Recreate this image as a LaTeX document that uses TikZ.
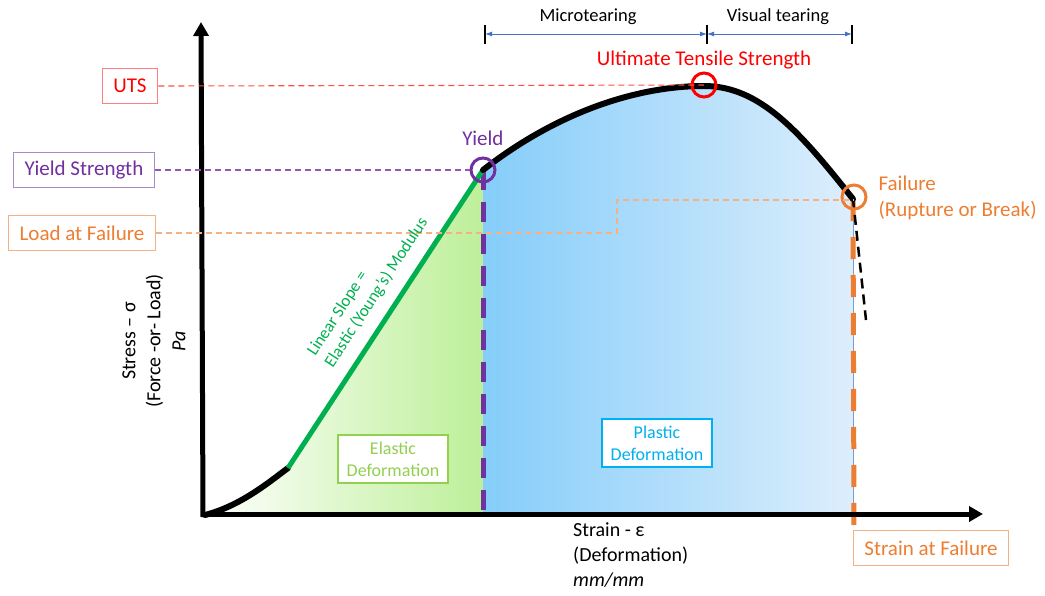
\documentclass[tikz,border=0pt]{standalone}
\usepackage{fontspec}
\setmainfont{Carlito}
\usetikzlibrary{arrows.meta}

\definecolor{utsred}{HTML}{FF0000}
\definecolor{utsbox}{HTML}{FF7C80}
\definecolor{yldpurple}{HTML}{7030A0}
\definecolor{yldbox}{HTML}{A98AC9}
\definecolor{failorange}{HTML}{ED7D31}
\definecolor{failbox}{HTML}{F4B183}
\definecolor{slopegreen}{HTML}{00B050}
\definecolor{elgreen}{HTML}{92D050}
\definecolor{elfill}{HTML}{BDEF98}
\definecolor{plblue}{HTML}{00B0F0}
\definecolor{plfillL}{HTML}{85CDFA}
\definecolor{plfillR}{HTML}{DDEEFC}
\definecolor{tearblue}{HTML}{4472C4}

\newcommand{\bigtxt}{\fontsize{21}{26}\selectfont}
\newcommand{\midtxt}{\fontsize{20}{25}\selectfont}
\newcommand{\smalltxt}{\fontsize{18}{22}\selectfont}

\begin{document}
\begin{tikzpicture}[x=1pt,y=-1pt,
    labelbox/.style={draw=#1,line width=1.3pt,fill=white,inner xsep=11pt,
      minimum height=35pt,font=\bigtxt},
    regionbox/.style={draw=#1,line width=2.2pt,fill=white,text=#1,align=center,
      inner xsep=9pt,inner ysep=7pt,font=\smalltxt},
    mark circle/.style={circle,draw=#1,line width=3pt,minimum size=24pt,inner sep=0pt},
    guide/.style={draw=#1,line width=1.1pt,dash pattern=on 6pt off 4pt},
    tick bar/.style={line width=1.6pt},
    span arrow/.style={tearblue,line width=0.9pt,
      {Latex[length=7pt,width=5pt]}-{Latex[length=7pt,width=5pt]}}]
    \useasboundingbox (0,0) rectangle (1045,596);

    % curve points
    \coordinate (O) at (205,515);
    \coordinate (knee) at (288,468);
    \coordinate (yld) at (483,170);
    \coordinate (ult) at (704,86);
    \coordinate (fail) at (853,199);
    \coordinate (yldfoot) at (483,515);
    \coordinate (failfoot) at (853,515);
    \coordinate (failend) at (854,528);
    \coordinate (breakend) at (866,320);

    % elastic and plastic regions
    \shade[left color=white,right color=elfill] (O) .. controls (240,506) and (268,483) .. (knee)
      -- (yld) -- (yldfoot) -- cycle;
    \shade[left color=plfillL,right color=plfillR] (yld) .. controls (560,110) and (640,86) .. (ult)
      .. controls (760,86) and (800,132) .. (fail) -- (failfoot) -- (yldfoot) -- cycle;
    \draw[tearblue!70,line width=0.8pt] (fail) -- (failfoot);

    \draw[yldpurple,line width=5pt,dash pattern=on 20pt off 12pt] (yld) -- (yldfoot);
    \draw[failorange,line width=5pt,dash pattern=on 22pt off 16pt] (fail) -- (failend);
    \draw[line width=2.5pt,dash pattern=on 10pt off 6pt] (fail) -- (breakend);

    % stress-strain curve
    \draw[line width=6pt,line cap=round] (O) .. controls (240,506) and (268,483) .. (knee);
    \draw[slopegreen,line width=5pt] (knee) -- (yld);
    \draw[line width=6pt,line cap=round] (yld) .. controls (560,110) and (640,86) .. (ult)
      .. controls (760,86) and (800,132) .. (fail);

    % axes
    \coordinate (ytip) at (201,22);
    \coordinate (xtip) at (983,514);
    \draw[line width=5pt,-{Triangle[length=14pt,width=15pt]}] (203,517) -- (ytip);
    \draw[line width=5pt,-{Triangle[length=14pt,width=15pt]}] (201,514) -- (xtip);

    % markers
    \node[mark circle=yldpurple] (yldc) at (yld) {};
    \node[mark circle=utsred] (ultc) at (704,85) {};
    \node[mark circle=failorange] (failc) at (854,197) {};

    \node[text=yldpurple,font=\bigtxt] (yldtxt) at (483,138) {Yield};
    \node[text=utsred,font=\bigtxt] (ulttxt) at (704,60) {Ultimate Tensile Strength};
    \node[text=failorange,font=\bigtxt,align=left,anchor=west] (failtxt) at (875,198)
      {Failure\\(Rupture or Break)};

    % value boxes on the axes
    \node[labelbox=utsbox,text=utsred] (uts) at (130,86) {UTS};
    \node[labelbox=yldbox,text=yldpurple] (ys) at (84,170) {Yield Strength};
    \node[labelbox=failbox,text=failorange] (laf) at (82,233) {Load at Failure};
    \node[labelbox=failbox,text=failorange] (saf) at (931,548) {Strain at Failure};

    \draw[guide=utsred!70] (uts.east) -- (ultc.center);
    \draw[guide=yldpurple!80] (ys.east) -- (yldc.west);
    \coordinate (bend) at (617,200);
    \draw[guide=failbox] (laf.east) -| (bend) -- (bend -| failc.center);

    % regions
    \node[regionbox=elgreen] (elastic) at (393,459) {Elastic\\Deformation};
    \node[regionbox=plblue] (plastic) at (657,443) {Plastic\\Deformation};

    \node[text=slopegreen,font=\fontsize{17}{21}\selectfont,align=left,rotate=57] (slope)
      at (368,287) {Linear Slope =\\Elastic (Young’s) Modulus};

    % axis titles
    \node[font=\midtxt,align=center,rotate=90] (ylabel) at (154,341)
      {Stress – σ\\(Force -or- Load)\\\textit{Pa}};
    \node[font=\midtxt,align=left,anchor=north west,inner sep=0pt] (xlabel) at (573,523)
      {Strain - ε\\(Deformation)\\\textit{mm/mm}};

    % tearing spans
    \coordinate (tA) at (485,34);
    \coordinate (tB) at (707,34);
    \coordinate (tC) at (852,34);
    \foreach \t in {tA,tB,tC} {
        \draw[tick bar] (\t) ++(0,-9) -- ++(0,19);
      }
    \draw[span arrow] (tA) -- (tB);
    \draw[span arrow] (tB) -- (tC);
    \node[font=\fontsize{18.5}{22}\selectfont] (micro) at (588,17) {Microtearing};
    \node[font=\fontsize{18.5}{22}\selectfont] (visual) at (778,17) {Visual tearing};
  \end{tikzpicture}
\end{document}
